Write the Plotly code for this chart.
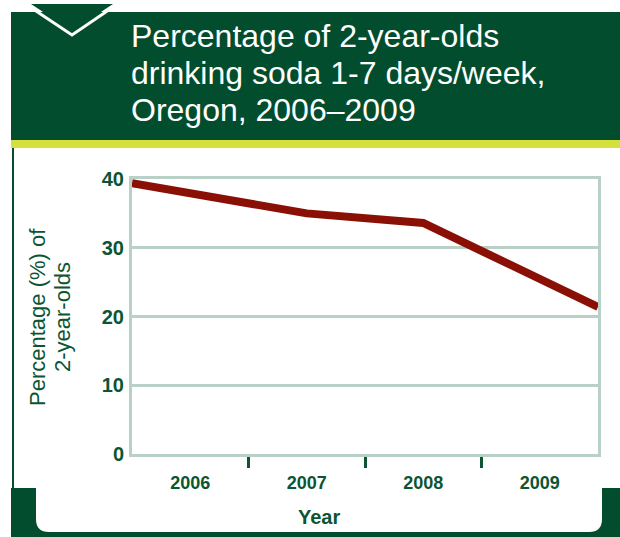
import plotly.graph_objects as go

# ---- data ----
years_drawn = [2005.5, 2007, 2008, 2009.5]      # line spans full category band
pct_2yo_soda = [39.4, 35.0, 33.6, 21.4]
year_labels = ["2006", "2007", "2008", "2009"]
year_centers = [2006, 2007, 2008, 2009]
year_bounds = [2006.5, 2007.5, 2008.5]
y_ticks = [0, 10, 20, 30, 40]
title_lines = ["Percentage of 2-year-olds",
               "drinking soda 1-7 days/week,",
               "Oregon, 2006\u20132009"]
y_title_lines = ["Percentage (%) of", "2-year-olds"]

# ---- styling ----
W, H = 620, 537
L, R, T, B = 132, 598, 179, 454
PW, PH = R - L, B - T
DARK = "#024d2d"
LIME = "#d6e03d"
TXT = "#0b5533"
GRID = "#b8d0c5"
LINE = "#8a1006"
FONT = "Liberation Sans, Arial, Helvetica, sans-serif"


def px(x):
    return (x - L) / PW


def py(y):
    return (B - y) / PH


fig = go.Figure()
fig.add_trace(go.Scatter(
    x=years_drawn, y=pct_2yo_soda, mode="lines",
    line=dict(color=LINE, width=8), hoverinfo="skip", showlegend=False,
))

shapes = []
# header band
shapes.append(dict(type="rect", xref="paper", yref="paper",
                   x0=px(11), x1=px(621), y0=py(140), y1=py(12),
                   fillcolor=DARK, line=dict(width=0), layer="above"))
# green notch triangle + white chevron
shapes.append(dict(type="path", xref="paper", yref="paper",
                   path=f"M {px(31)},{py(4)} L {px(113)},{py(4)} L {px(72)},{py(31)} Z",
                   fillcolor=DARK, line=dict(width=0), layer="above"))
shapes.append(dict(type="path", xref="paper", yref="paper",
                   path=f"M {px(24)},{py(3)} L {px(72)},{py(35)} L {px(119)},{py(3)}",
                   line=dict(color="white", width=3), layer="above"))
# lime rule
shapes.append(dict(type="rect", xref="paper", yref="paper",
                   x0=px(11), x1=px(621), y0=py(148), y1=py(140),
                   fillcolor=LIME, line=dict(width=0), layer="above"))
# left vertical rule
shapes.append(dict(type="rect", xref="paper", yref="paper",
                   x0=px(12), x1=px(14), y0=py(489), y1=py(148),
                   fillcolor=DARK, line=dict(width=0), layer="below"))
# bottom frame
shapes.append(dict(type="rect", xref="paper", yref="paper",
                   x0=px(11), x1=px(621), y0=py(538), y1=py(488),
                   fillcolor=DARK, line=dict(width=0), layer="below"))
r = 13
panel = (f"M {px(36)},{py(488)} L {px(602)},{py(488)} L {px(602)},{py(532 - r)} "
         f"Q {px(602)},{py(532)} {px(602 - r)},{py(532)} L {px(36 + r)},{py(532)} "
         f"Q {px(36)},{py(532)} {px(36)},{py(532 - r)} Z")
shapes.append(dict(type="path", xref="paper", yref="paper", path=panel,
                   fillcolor="white", line=dict(width=0), layer="below"))

annotations = []
title_centers = [36, 73, 110]
for line_txt, yc in zip(title_lines, title_centers):
    annotations.append(dict(text=line_txt, xref="paper", yref="paper",
                            x=px(129), y=py(yc), xanchor="left", yanchor="middle",
                            showarrow=False,
                            font=dict(family=FONT, size=32, color="white")))
for line_txt, xc in zip(y_title_lines, [37, 62]):
    annotations.append(dict(text=line_txt, xref="paper", yref="paper",
                            x=px(xc), y=py(317), xanchor="center", yanchor="middle",
                            textangle=-90, showarrow=False,
                            font=dict(family=FONT, size=22, color=TXT)))
annotations.append(dict(text="<b>Year</b>", xref="paper", yref="paper",
                        x=px(319), y=py(517), xanchor="center", yanchor="middle",
                        showarrow=False,
                        font=dict(family=FONT, size=20, color=TXT)))

fig.update_layout(
    width=W, height=H,
    margin=dict(l=L, r=W - R, t=T, b=H - B, pad=0),
    paper_bgcolor="white", plot_bgcolor="white",
    shapes=shapes, annotations=annotations,
    showlegend=False,
    xaxis=dict(range=[2005.5, 2009.5], showgrid=False, zeroline=False,
               showline=True, linecolor=GRID, linewidth=3, mirror=True,
               tickmode="array", tickvals=year_centers, ticktext=year_labels,
               ticks="", ticklabelstandoff=10,
               tickfont=dict(family=FONT, size=18, color=TXT, weight="bold"),
               minor=dict(tickmode="array", tickvals=year_bounds, ticks="outside",
                          ticklen=11, tickwidth=3, tickcolor=TXT, showgrid=False),
               fixedrange=True),
    yaxis=dict(range=[0, 40], tickvals=y_ticks, showgrid=True, gridcolor=GRID,
               gridwidth=3, zeroline=False, showline=True, linecolor=GRID,
               linewidth=3, mirror=True, ticks="", ticklabelstandoff=1,
               tickfont=dict(family=FONT, size=20, color=TXT, weight="bold"),
               fixedrange=True),
)

fig.write_html("out.html")
